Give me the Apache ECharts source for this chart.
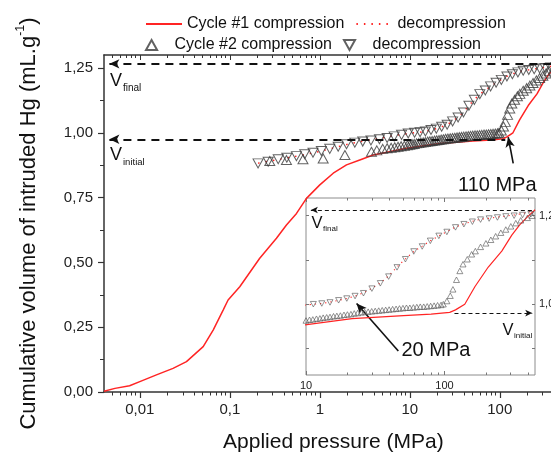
<!DOCTYPE html>
<html><head><meta charset="utf-8">
<script src="https://cdn.jsdelivr.net/npm/echarts@6/dist/echarts.min.js"></script>
<style>html,body{margin:0;padding:0;background:#fff}#c{width:551px;height:456px}</style>
</head><body><div id="c"></div>
<script>
// ---------- data (pressure in MPa, volume in mL/g) ----------
// Cycle #1 compression (red solid)
const c1CompP = [0.0040,0.0053,0.0077,0.010,0.0153,0.0234,0.033,0.0506,0.0653,0.0843,0.0957,0.129,0.215,0.33,0.426,0.551,0.711,1.0,1.41,1.98,2.78,3.92,9.2,21.5,50.6,80,109,120,140,166,207,259,306,350,400,450];
const c1CompV = [0.003,0.014,0.024,0.040,0.066,0.091,0.117,0.175,0.239,0.316,0.355,0.406,0.516,0.593,0.644,0.689,0.747,0.799,0.844,0.876,0.895,0.914,0.940,0.959,0.968,0.972,0.977,0.984,1.000,1.050,1.105,1.150,1.195,1.225,1.248,1.266];
// Cycle #1 decompression (red dotted)
const c1DecP = [450,420,366,318,277,241,210,182,159,138,120,104,91,79,69,60,52.2,45.4,39.5,34.4,29.9,26,22.6,19.7,17.2,14.9,13,11.3,9.6,7.0,5.0,3.0,2.0,1.0,0.5,0.2];
const c1DecV = [1.266,1.262,1.256,1.252,1.249,1.246,1.243,1.240,1.234,1.227,1.218,1.205,1.193,1.179,1.164,1.149,1.128,1.105,1.080,1.060,1.045,1.032,1.023,1.016,1.011,1.006,1.002,1.000,0.997,0.990,0.981,0.968,0.955,0.928,0.907,0.882];
// Cycle #2 compression (up triangles)
const c2CompP = [0.278,0.426,0.65,1.09,1.9,3.75,4.3,5.0,5.6,6.2,6.8,7.4,8.0,8.7,9.4,10.0,10.6,11.2,11.9,12.6,13.3,14.1,14.9,15.8,16.7,17.7,18.8,19.9,21.1,22.3,23.6,25.0,26.5,28.1,29.8,31.6,33.5,35.5,37.6,39.8,42.2,44.7,47.3,50.1,53.1,56.2,59.6,63.1,66.8,70.8,75.0,79.4,84.1,89.1,94.4,98,104,110,115,122,129,136,146,157,167,182,199,216,234,255,277,301,327,355,397,429];
const c2CompV = [0.891,0.895,0.898,0.901,0.914,0.927,0.932,0.938,0.940,0.942,0.944,0.946,0.948,0.950,0.952,0.954,0.956,0.957,0.959,0.960,0.962,0.963,0.964,0.966,0.967,0.968,0.970,0.971,0.972,0.974,0.975,0.977,0.978,0.979,0.980,0.981,0.982,0.983,0.984,0.985,0.986,0.987,0.988,0.989,0.990,0.990,0.991,0.992,0.993,0.993,0.994,0.995,0.996,0.997,0.998,1.000,1.009,1.024,1.042,1.069,1.094,1.113,1.127,1.141,1.150,1.162,1.172,1.182,1.192,1.202,1.211,1.220,1.229,1.237,1.244,1.250];
// Cycle #2 decompression (down triangles)
const c2DecP = [420,366,318,277,241,210,182,159,138,120,104,91,79,69,60,52.2,45.4,39.5,34.4,29.9,26,22.6,19.7,17.2,14.9,13,11.3,9.6,8.1,6.7,5.6,4.6,3.7,3.0,2.45,1.98,1.6,1.29,1.04,0.84,0.68,0.55,0.43,0.345,0.267,0.206];
const c2DecV = [1.254,1.252,1.250,1.248,1.245,1.242,1.239,1.233,1.226,1.217,1.204,1.193,1.179,1.163,1.149,1.127,1.104,1.078,1.059,1.044,1.031,1.023,1.016,1.011,1.005,1.002,1.000,0.997,0.992,0.986,0.980,0.975,0.970,0.966,0.962,0.956,0.946,0.938,0.930,0.923,0.917,0.910,0.904,0.898,0.888,0.882];

// axes / ticks
const xTickP = [0.01, 0.1, 1, 10, 100];
const xTickLabels = ['0,01', '0,1', '1', '10', '100'];
const yTicks = [0, 0.25, 0.5, 0.75, 1.0, 1.25];
const yMinorTicks = [0.125, 0.375, 0.625, 0.875, 1.125];
const insetXTickP = [10, 100];
const insetXTickLabels = ['10', '100'];
const insetYTicks = [0.875, 1.0, 1.125, 1.25];
const insetYLabels = [1.0, 1.25];
const xRangeP = [0.004, 500];
const insetXRangeP = [10, 450];
const yRange = [0, 1.3];
const insetYRange = [0.8, 1.3];
// reference levels & annotation anchors
const vFinal = 1.266, vInitial = 0.975;
const vInitialEndP = 115, insetVInitialStartP = 118;
const arrow110 = [[141, 0.882], [124, 0.983]];
const arrow20 = [[46.4, 0.868], [23.2, 1.002]];

const legendNames = {c1c: 'Cycle #1 compression', c1d: 'decompression', c2c: 'Cycle #2 compression', c2d: 'decompression'};

// ---------- helpers ----------
const FONT = 'Liberation Sans, Arial, Helvetica, sans-serif';
const AX = '#333';
const RED = '#ff2424';
const lg = Math.log10;
const pts = (P, V) => P.slice(0, Math.min(P.length, V.length)).map((p, i) => [lg(p), V[i]]);
function minorLogTicks(lo, hi) {
  const out = [];
  for (let n = -4; n <= 3; n++) for (let k = 2; k <= 9; k++) {
    const v = lg(k * Math.pow(10, n));
    if (v > lo + 1e-9 && v < hi - 1e-9) out.push(v);
  }
  return out;
}
const xLabelMap = {}; xTickP.forEach((p, i) => xLabelMap[Math.round(lg(p))] = xTickLabels[i]);
const inXLabelMap = {}; insetXTickP.forEach((p, i) => inXLabelMap[Math.round(lg(p))] = insetXTickLabels[i]);
const comma2 = v => v.toFixed(2).replace('.', ',');

const mainMajor = xTickP.map(lg);
const mainMinor = minorLogTicks(lg(xRangeP[0]), lg(xRangeP[1]));
const inMajor = insetXTickP.map(lg);
const inMinor = minorLogTicks(lg(insetXRangeP[0]), lg(insetXRangeP[1]));

function tickAxis(grid, pos, lo, hi, ticks, len, inside, color, extra) {
  const a = {
    gridIndex: grid, type: 'value', position: pos, min: lo, max: hi,
    splitLine: {show: false},
    axisLine: {show: false, onZero: false},
    axisTick: {show: true, inside: inside, length: len, customValues: ticks, lineStyle: {color: color, width: 1}},
    axisLabel: {show: false}
  };
  return Object.assign(a, extra || {});
}

const upTri = 'path://M1,0L2,1.8L0,1.8Z';
const downTri = 'path://M0,0L2,0L1,1.8Z';
const triStyleMain = {color: 'rgba(0,0,0,0)', borderColor: '#3a3a3a', borderWidth: 1};
const triStyleIn = {color: 'rgba(0,0,0,0)', borderColor: '#555', borderWidth: 0.8};

const xAxes = [
  // main grid
  tickAxis(0, 'bottom', lg(xRangeP[0]), lg(xRangeP[1]), mainMajor, 6, false, AX, {
    axisLine: {show: true, onZero: false, lineStyle: {color: AX, width: 1.5}},
    axisTick: {show: true, inside: false, length: 6, customValues: mainMajor, lineStyle: {color: AX, width: 1.2}},
    axisLabel: {show: true, customValues: mainMajor, formatter: v => xLabelMap[Math.round(v)] || '', margin: 10, fontSize: 15, color: '#222', fontFamily: FONT},
    name: 'Applied pressure (MPa)', nameLocation: 'middle', nameGap: 40,
    nameTextStyle: {fontSize: 21, color: '#111', fontFamily: FONT}
  }),
  tickAxis(0, 'bottom', lg(xRangeP[0]), lg(xRangeP[1]), mainMinor, 3.5, false, AX),
  tickAxis(0, 'top', lg(xRangeP[0]), lg(xRangeP[1]), mainMajor, 5, true, AX, {
    axisLine: {show: true, onZero: false, lineStyle: {color: AX, width: 1.5}}
  }),
  tickAxis(0, 'top', lg(xRangeP[0]), lg(xRangeP[1]), mainMinor, 3, true, AX),
  // inset grid
  tickAxis(1, 'bottom', lg(insetXRangeP[0]), lg(insetXRangeP[1]), inMajor, 4, true, '#777', {
    axisLabel: {show: true, customValues: inMajor, formatter: v => inXLabelMap[Math.round(v)] || '', margin: 5, fontSize: 11, color: '#222', fontFamily: FONT}
  }),
  tickAxis(1, 'bottom', lg(insetXRangeP[0]), lg(insetXRangeP[1]), inMinor, 2.5, true, '#777'),
  tickAxis(1, 'top', lg(insetXRangeP[0]), lg(insetXRangeP[1]), inMajor, 4, true, '#777'),
  tickAxis(1, 'top', lg(insetXRangeP[0]), lg(insetXRangeP[1]), inMinor, 2.5, true, '#777')
];

const yAxes = [
  tickAxis(0, 'left', yRange[0], yRange[1], yTicks, 6, false, AX, {
    axisLine: {show: true, onZero: false, lineStyle: {color: AX, width: 1.5}},
    axisTick: {show: true, inside: false, length: 6, customValues: yTicks, lineStyle: {color: AX, width: 1.2}},
    axisLabel: {show: true, customValues: yTicks, formatter: comma2, margin: 11, fontSize: 15, color: '#222', fontFamily: FONT},
    name: '{t|Cumulative volume of intruded Hg (mL.g}{s|-1}{t|)}',
    nameLocation: 'middle', nameGap: 64, nameRotate: 90,
    nameTextStyle: {
      fontFamily: FONT, color: '#111',
      rich: {
        t: {fontSize: 22, lineHeight: 26, verticalAlign: 'bottom', fontFamily: FONT, color: '#111'},
        s: {fontSize: 12.5, lineHeight: 13, verticalAlign: 'top', fontFamily: FONT, color: '#111'}
      }
    }
  }),
  tickAxis(0, 'left', yRange[0], yRange[1], yMinorTicks, 4, false, AX),
  tickAxis(1, 'left', insetYRange[0], insetYRange[1], insetYTicks, 3, true, '#777'),
  tickAxis(1, 'right', insetYRange[0], insetYRange[1], insetYTicks, 3, true, '#777', {
    axisLabel: {show: true, customValues: insetYLabels, formatter: comma2, margin: 4, fontSize: 11, color: '#222', fontFamily: FONT}
  })
];

const dashMain = {type: [8, 6], width: 2, color: '#111'};
const dashIn = {type: [4, 3], width: 1.2, color: '#111'};

const series = [
  {
    name: 'c1c', type: 'line', xAxisIndex: 0, yAxisIndex: 0, data: pts(c1CompP, c1CompV),
    symbol: 'none', lineStyle: {color: RED, width: 1.5}, itemStyle: {color: RED}, z: 3,
    markLine: {
      silent: true, animation: false, label: {show: false}, lineStyle: dashMain,
      data: [
        [{coord: [lg(xRangeP[0]) + 0.06, vFinal], symbol: 'arrow', symbolSize: [7, 10]}, {coord: [lg(xRangeP[1]), vFinal], symbol: 'none'}],
        [{coord: [lg(xRangeP[0]) + 0.06, vInitial], symbol: 'arrow', symbolSize: [7, 10]}, {coord: [lg(vInitialEndP), vInitial], symbol: 'none'}]
      ]
    }
  },
  {
    name: 'c1d', type: 'line', xAxisIndex: 0, yAxisIndex: 0, data: pts(c1DecP, c1DecV),
    symbol: 'none', lineStyle: {color: RED, width: 1.5, type: [1.5, 6]}, itemStyle: {color: RED}, z: 3,
    markLine: {
      silent: true, animation: false, label: {show: false}, lineStyle: {type: 'solid', width: 1.6, color: '#111'},
      data: [[{coord: [lg(arrow110[0][0]), arrow110[0][1]], symbol: 'none'}, {coord: [lg(arrow110[1][0]), arrow110[1][1]], symbol: 'arrow', symbolSize: [7, 10]}]]
    }
  },
  {name: 'c2c', type: 'scatter', xAxisIndex: 0, yAxisIndex: 0, data: pts(c2CompP, c2CompV),
   symbol: upTri, symbolSize: [10, 9], itemStyle: triStyleMain, z: 4},
  {name: 'c2d', type: 'scatter', xAxisIndex: 0, yAxisIndex: 0, data: pts(c2DecP, c2DecV),
   symbol: downTri, symbolSize: [10, 9], itemStyle: triStyleMain, z: 4},
  // inset
  {
    name: 'in_c1c', type: 'line', xAxisIndex: 4, yAxisIndex: 2, data: pts(c1CompP, c1CompV),
    symbol: 'none', lineStyle: {color: RED, width: 1.2}, z: 6,
    markLine: {
      silent: true, animation: false, label: {show: false}, lineStyle: dashIn,
      data: [
        [{coord: [lg(insetXRangeP[0]) + 0.035, vFinal], symbol: 'arrow', symbolSize: [5, 7]}, {coord: [lg(insetXRangeP[1]), vFinal], symbol: 'none'}],
        [{coord: [lg(insetVInitialStartP), vInitial], symbol: 'none'}, {coord: [lg(insetXRangeP[1]) - 0.02, vInitial], symbol: 'arrow', symbolSize: [5, 7]}]
      ]
    }
  },
  {
    name: 'in_c1d', type: 'line', xAxisIndex: 4, yAxisIndex: 2, data: pts(c1DecP, c1DecV),
    symbol: 'none', lineStyle: {color: RED, width: 1.1, type: [1.2, 4]}, z: 6,
    markLine: {
      silent: true, animation: false, label: {show: false}, lineStyle: {type: 'solid', width: 1.6, color: '#111'},
      data: [[{coord: [lg(arrow20[0][0]), arrow20[0][1]], symbol: 'none'}, {coord: [lg(arrow20[1][0]), arrow20[1][1]], symbol: 'arrow', symbolSize: [7, 10]}]]
    }
  },
  {name: 'in_c2c', type: 'scatter', xAxisIndex: 4, yAxisIndex: 2, data: pts(c2CompP, c2CompV),
   symbol: upTri, symbolSize: [6, 5.5], itemStyle: triStyleIn, z: 7},
  {name: 'in_c2d', type: 'scatter', xAxisIndex: 4, yAxisIndex: 2, data: pts(c2DecP, c2DecV),
   symbol: downTri, symbolSize: [6, 5.5], itemStyle: triStyleIn, z: 7}
];

function txt(x, y, s, size) {
  return {type: 'text', x: x, y: y, z: 50, silent: true,
    style: {text: s, fontSize: size, fontFamily: FONT, fill: '#111', align: 'left', verticalAlign: 'middle'}};
}

const option = {
  animation: false,
  backgroundColor: '#fff',
  grid: [
    {left: 104, top: 55, width: 458.7, height: 337, show: false, outerBoundsMode: 'none', containLabel: false},
    {left: 306, top: 198, width: 229, height: 177, show: true, backgroundColor: '#fff', borderColor: '#8c8c8c', borderWidth: 1, outerBoundsMode: 'none', containLabel: false}
  ],
  xAxis: xAxes,
  yAxis: yAxes,
  legend: [
    {data: ['c1c', 'c1d'], left: 140, top: 11, orient: 'horizontal', itemWidth: 36, itemHeight: 12, itemGap: 11,
     itemStyle: {opacity: 0},
     selectedMode: false, formatter: n => legendNames[n], textStyle: {fontSize: 16, color: '#111', fontFamily: FONT}},
    {data: ['c2c', 'c2d'], left: 140, top: 32, orient: 'horizontal', itemWidth: 36, itemHeight: 10, itemGap: 11,
     selectedMode: false, formatter: n => legendNames[n], textStyle: {fontSize: 16, color: '#111', fontFamily: FONT}}
  ],
  series: series,
  graphic: [
    txt(110, 81, 'V', 18), txt(123, 88.5, 'final', 10),
    txt(110, 155, 'V', 18), txt(123, 162.5, 'initial', 9.5),
    txt(458, 185, '110 MPa', 20),
    txt(311.5, 223, 'V', 16.5), txt(323, 228.5, 'final', 8),
    txt(502.5, 330, 'V', 16.5), txt(514, 335.5, 'initial', 8),
    txt(401.5, 350, '20 MPa', 20)
  ]
};

const chart = echarts.init(document.getElementById('c'), null, {renderer: 'canvas'});
chart.setOption(option);
</script></body></html>
